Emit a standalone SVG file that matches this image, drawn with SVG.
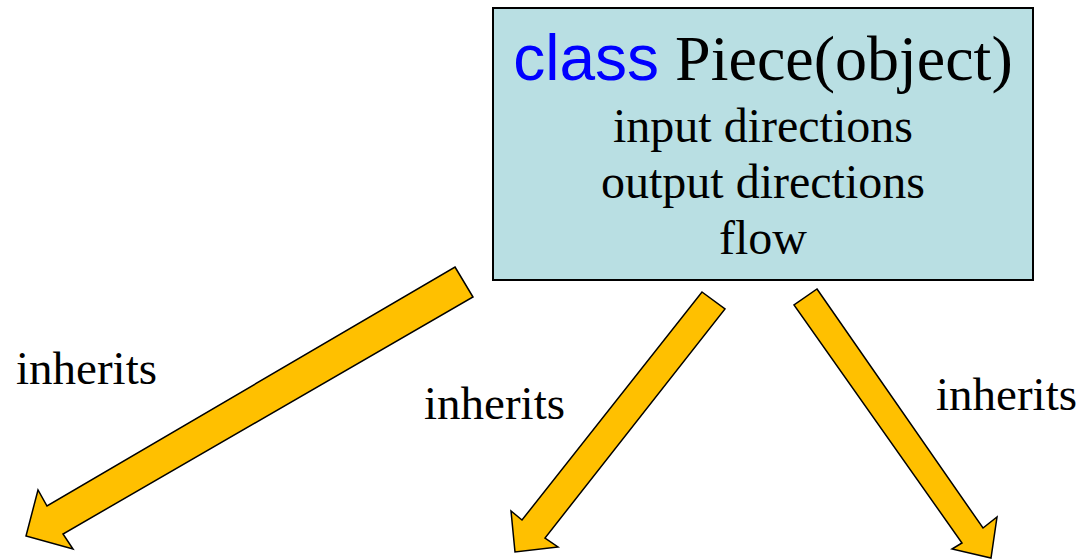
<svg xmlns="http://www.w3.org/2000/svg" width="1082" height="559" viewBox="0 0 1082 559">
  <style>
    .box { fill: #B9DFE3; stroke: #000000; stroke-width: 2; }
    .arrow { fill: #FFC000; stroke: #000000; stroke-width: 1.5; stroke-linejoin: miter; }
    .serif { font-family: "Liberation Serif", "Times New Roman", serif; fill: #000000; }
    .sans { font-family: "Liberation Sans", Arial, sans-serif; fill: #0000FF; }
    .body { font-size: 48px; text-anchor: middle; }
    .lbl { font-size: 47px; }
  </style>
  <rect width="1082" height="559" fill="#FFFFFF"/>
  <g id="piece">
    <rect class="box" x="493" y="8" width="540" height="272"/>
    <text x="763" y="80" text-anchor="middle" font-size="64"><tspan class="sans">class</tspan><tspan class="serif"> Piece(object)</tspan></text>
    <text class="serif body" x="763" y="142">input directions</text>
    <text class="serif body" x="763" y="198">output directions</text>
    <text class="serif body" x="763" y="254">flow</text>
  </g>
  <g id="connectors">
    <polygon class="arrow" points="455,267 473,297 63,534 73,549 26,536 38,490 47,506"/>
    <polygon class="arrow" points="702,292 725,309 545,538 558,547 515,552 511,511 522,520"/>
    <polygon class="arrow" points="817,289 983,528 997,517 991,558 952,549 962,543 794,305"/>
  </g>
  <g id="labels">
    <text class="serif lbl" x="16" y="384">inherits</text>
    <text class="serif lbl" x="424" y="419">inherits</text>
    <text class="serif lbl" x="936" y="410">inherits</text>
  </g>
</svg>
